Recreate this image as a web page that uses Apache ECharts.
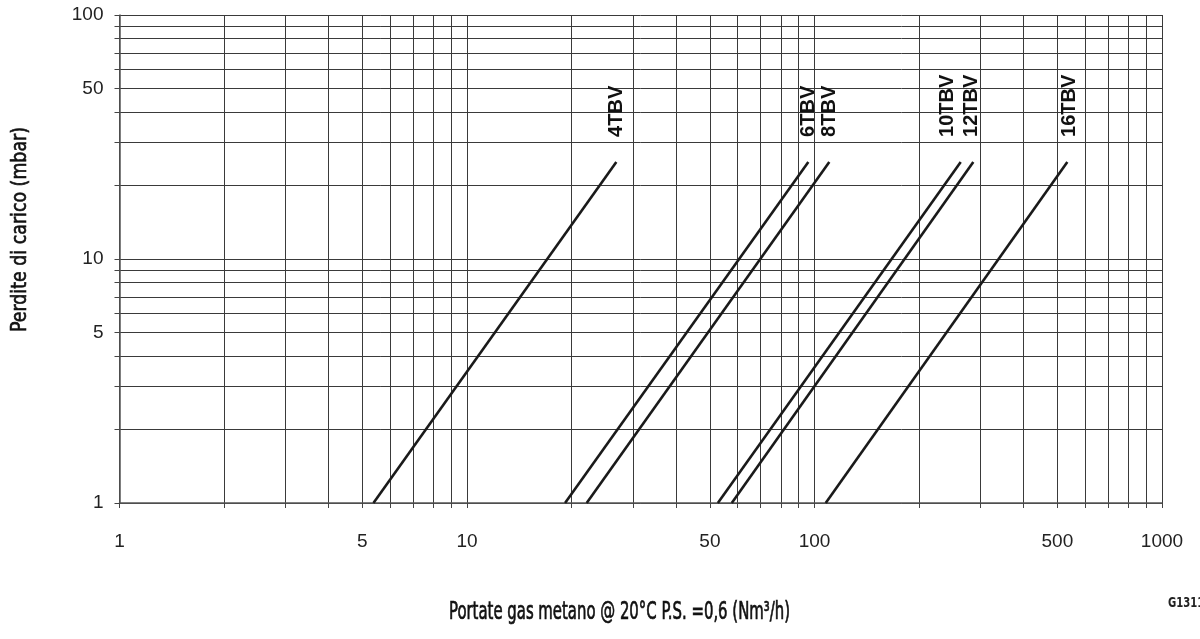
<!DOCTYPE html>
<html>
<head>
<meta charset="utf-8">
<script src="https://cdn.jsdelivr.net/npm/echarts@6/dist/echarts.min.js"></script>
<style>
  html, body { margin: 0; padding: 0; background: #fff; }
  #chart { width: 1200px; height: 639px; }
</style>
</head>
<body>
<div id="chart"></div>
<script>
// Series: flow rate (Nm3/h) vs pressure loss (mbar), two end points each
const seriesNames = ['4TBV', '6TBV', '8TBV', '10TBV', '12TBV', '16TBV'];
const flowAt1 = [5.38, 19.15, 22.1, 52.7, 57.8, 107.7];
const flowAt25 = [26.9, 96.0, 110.3, 263.5, 286.4, 534];
const lossLow = 1;
const lossHigh = 25;

// Grid / tick values
const xGridValues = [1,2,3,4,5,6,7,8,9,10,20,30,40,50,60,70,80,90,100,200,300,400,500,600,700,800,900,1000];
const yGridValues = [1,2,3,4,5,6,7,8,9,10,20,30,40,50,60,70,80,90,100];
const xTickLabels = [1, 5, 10, 50, 100, 500, 1000];
const yTickLabels = [1, 5, 10, 50, 100];

const xTitle = 'Portate gas metano @ 20°C P.S. =0,6 (Nm³/h)';
const yTitle = 'Perdite di carico (mbar)';
const codeText = 'G1311I';

const labelOffsets = [[0,0],[0,0],[0,0],[0,-13],[0,-2],[0,2]];

const condensed = "'DejaVu Sans Condensed', 'Liberation Sans', sans-serif";
const labelFont = "Liberation Sans";
const gridColor = '#3a3a3a';

// fit a condensed title to the width it takes in the reference
function fitScale(text, font, targetWidth) {
  const ctx = document.createElement('canvas').getContext('2d');
  ctx.font = font;
  return targetWidth / ctx.measureText(text).width;
}
const xTitleFont = "25px " + condensed;
const yTitleFont = "21px " + condensed;
const codeFont = "bold 14px " + condensed;

const chart = echarts.init(document.getElementById('chart'), null, { renderer: 'canvas' });

const series = seriesNames.map((name, i) => ({
  name: name,
  type: 'line',
  symbol: 'circle',
  symbolSize: 0,
  showSymbol: true,
  silent: true,
  lineStyle: { color: '#1a1a1a', width: 2.6 },
  itemStyle: { color: '#1a1a1a' },
  label: { show: false },
  data: [
    { value: [flowAt1[i], lossLow] },
    {
      value: [flowAt25[i], lossHigh],
      label: {
        show: true,
        formatter: name,
        position: 'top',
        rotate: 90,
        align: 'left',
        verticalAlign: 'middle',
        distance: 25,
        offset: labelOffsets[i],
        fontFamily: labelFont,
        fontWeight: 'bold',
        fontSize: 20,
        color: '#111'
      }
    }
  ]
}));

const axisCommon = {
  type: 'log',
  logBase: 10,
  axisLine: { show: true, lineStyle: { color: '#555', width: 1.5 } },
  splitLine: { show: true, lineStyle: { color: gridColor, width: 1 } },
  axisTick: { show: true, length: 5, inside: false, lineStyle: { color: '#444', width: 1 } },
  minorTick: { show: false },
  minorSplitLine: { show: false }
};

chart.setOption({
  animation: false,
  backgroundColor: '#ffffff',
  grid: { left: 119.5, right: 38, top: 15, bottom: 136, containLabel: false },
  xAxis: Object.assign({}, axisCommon, {
    min: 1, max: 1000,
    axisTick: Object.assign({}, axisCommon.axisTick, { customValues: xGridValues }),
    axisLabel: {
      customValues: xTickLabels,
      formatter: v => String(v),
      margin: 29,
      fontSize: 19,
      color: '#222',
      fontFamily: labelFont
    }
  }),
  yAxis: Object.assign({}, axisCommon, {
    min: 1, max: 100,
    axisTick: Object.assign({}, axisCommon.axisTick, { customValues: yGridValues }),
    axisLabel: {
      customValues: yTickLabels,
      formatter: v => String(v),
      margin: 16,
      fontSize: 19,
      color: '#222',
      fontFamily: labelFont
    }
  }),
  graphic: [
    {
      type: 'text',
      x: 449, y: 600,
      scaleX: fitScale(xTitle, xTitleFont, 341),
      style: { text: xTitle, font: xTitleFont, fill: '#111', stroke: '#111', lineWidth: 0.7, textAlign: 'left', textVerticalAlign: 'top' }
    },
    {
      type: 'text',
      x: 10, y: 332,
      rotation: Math.PI / 2,
      scaleX: fitScale(yTitle, yTitleFont, 205),
      style: { text: yTitle, font: yTitleFont, fill: '#111', stroke: '#111', lineWidth: 0.6, textAlign: 'left', textVerticalAlign: 'top' }
    },
    {
      type: 'text',
      x: 1168, y: 596,
      scaleX: 0.8,
      style: { text: codeText, font: codeFont, fill: '#222', textAlign: 'left', textVerticalAlign: 'top' }
    }
  ],
  series: series
});
</script>
</body>
</html>
